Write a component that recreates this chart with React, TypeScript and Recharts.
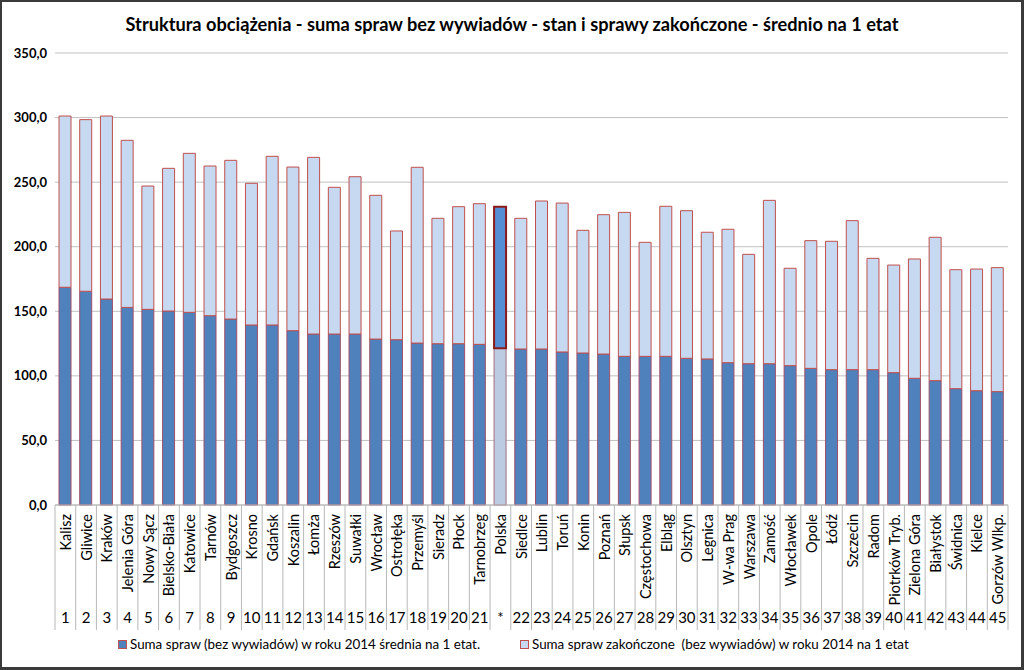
import React from "react";
import { BarChart, Bar, XAxis, YAxis, CartesianGrid, Cell } from "recharts";

// categories (courts), rank labels and values
const names = [
  "Kalisz", "Gliwice", "Kraków", "Jelenia Góra", "Nowy Sącz", "Bielsko-Biała",
  "Katowice", "Tarnów", "Bydgoszcz", "Krosno", "Gdańsk", "Koszalin", "Łomża",
  "Rzeszów", "Suwałki", "Wrocław", "Ostrołęka", "Przemyśl", "Sieradz", "Płock",
  "Tarnobrzeg", "Polska", "Siedlce", "Lublin", "Toruń", "Konin", "Poznań",
  "Słupsk", "Częstochowa", "Elbląg", "Olsztyn", "Legnica", "W-wa Prag",
  "Warszawa", "Zamość", "Włocławek", "Opole", "Łódź", "Szczecin", "Radom",
  "Piotrków Tryb.", "Zielona Góra", "Białystok", "Świdnica", "Kielce", "Gorzów Wlkp.",
];

const ranks = [
  "1", "2", "3", "4", "5", "6", "7", "8", "9", "10", "11", "12", "13", "14",
  "15", "16", "17", "18", "19", "20", "21", "*", "22", "23", "24", "25", "26",
  "27", "28", "29", "30", "31", "32", "33", "34", "35", "36", "37", "38", "39",
  "40", "41", "42", "43", "44", "45",
];

// Suma spraw (bez wywiadów) w roku 2014 średnia na 1 etat
const sumaSpraw = [
  168.6, 165.5, 159.5, 153.0, 151.5, 150.2, 149.2, 146.6, 144.0, 139.4, 139.4,
  135.0, 132.4, 132.4, 132.4, 128.5, 128.0, 125.4, 124.9, 124.9, 124.4, 121.3,
  120.8, 120.8, 118.5, 117.7, 116.9, 115.1, 115.1, 115.1, 113.6, 113.1, 110.2,
  109.4, 109.4, 107.9, 105.8, 104.8, 104.8, 104.8, 102.5, 98.1, 96.3, 90.1,
  88.5, 87.8,
];

// Suma spraw zakończone (bez wywiadów) w roku 2014 na 1 etat (stacked segment)
const zakonczone = [
  132.6, 132.9, 141.7, 129.4, 95.5, 110.5, 123.1, 115.9, 122.9, 109.7, 130.6,
  126.7, 136.8, 113.6, 121.8, 111.3, 84.2, 136.1, 97.1, 106.1, 108.9, 109.7,
  101.2, 114.6, 115.3, 95.0, 107.9, 111.5, 88.3, 116.2, 114.3, 98.1, 103.3,
  84.7, 126.5, 75.4, 98.9, 99.4, 115.4, 86.2, 83.3, 92.4, 111.0, 92.1, 94.2,
  96.0,
];

const yTicks = [0, 50, 100, 150, 200, 250, 300, 350];

const data = names.map((name, i) => ({
  name,
  rank: ranks[i],
  suma: sumaSpraw[i],
  zak: zakonczone[i],
}));

const FONT = "Lato, 'Open Sans', sans-serif";
const W = 1024;
const H = 670;
const PLOT_RIGHT = 1008;
const STEP = (PLOT_RIGHT - 55) / names.length;
const AXIS_H = 125;

const BLUE = "#4f81bd";
const LIGHT = "#c6d9f1";
const OUTLINE = "#c0504d";

const fmt = (v: number) => v.toFixed(1).replace(".", ",");

const CategoryTick = (props: any) => {
  const { x, y, payload } = props;
  const idx = props.index ?? names.indexOf(payload.value);
  const half = STEP / 2;
  const isLast = idx === names.length - 1;
  return (
    <g>
      <line x1={x - half} x2={x - half} y1={y} y2={y + AXIS_H} stroke="#b8b8b8" />
      {isLast && (
        <line x1={x + half} x2={x + half} y1={y} y2={y + AXIS_H} stroke="#b8b8b8" />
      )}
      <text
        x={x}
        y={y + 9}
        transform={`rotate(-90, ${x}, ${y + 9})`}
        textAnchor="end"
        dominantBaseline="central"
        fontFamily={FONT}
        fontSize={14.5}
        fill="#000"
      >
        {payload.value}
      </text>
      <text
        x={x}
        y={y + 118}
        textAnchor="middle"
        fontFamily={FONT}
        fontSize={15}
        fill="#000"
      >
        {ranks[idx]}
      </text>
    </g>
  );
};

const LegendItem = ({ fill, label, left }: { fill: string; label: string; left: number }) => (
  <div
    style={{
      position: "absolute",
      left,
      top: 636,
      display: "flex",
      alignItems: "center",
      whiteSpace: "pre",
      fontSize: 13.4,
      color: "#000",
    }}
  >
    <span
      style={{
        display: "inline-block",
        width: 7,
        height: 7,
        background: fill,
        border: `1px solid ${OUTLINE}`,
        marginRight: 3,
      }}
    />
    <span>{label}</span>
  </div>
);

export default function App() {
  return (
    <div
      style={{
        position: "absolute",
        left: 0,
        top: 0,
        width: W,
        height: H,
        background: "#fff",
        fontFamily: FONT,
      }}
    >
      <BarChart
        width={W}
        height={H}
        data={data}
        margin={{ top: 53, right: W - PLOT_RIGHT, left: 10, bottom: H - 505 - AXIS_H }}
        barSize={12}
        style={{ position: "absolute", left: 0, top: 0 }}
      >
        <CartesianGrid vertical={false} stroke="#c0c0c0" />
        <XAxis
          dataKey="name"
          interval={0}
          height={AXIS_H}
          tickLine={false}
          tickSize={0}
          tickMargin={0}
          axisLine={{ stroke: "#b8b8b8" }}
          tick={<CategoryTick />}
        />
        <YAxis
          width={45}
          domain={[0, 350]}
          ticks={yTicks}
          tickFormatter={fmt}
          axisLine={false}
          tickLine={false}
          tickMargin={2}
          tick={{ fontFamily: FONT, fontSize: 13, fontWeight: 700, fill: "#000" }}
        />
        <Bar dataKey="suma" stackId="a" fill={BLUE} stroke="#a0506a" strokeWidth={1} isAnimationActive={false}>
          {data.map((d) => (
            <Cell
              key={d.name}
              fill={d.name === "Polska" ? "#bccbe2" : BLUE}
              stroke={d.name === "Polska" ? "#a07080" : "#a0506a"}
            />
          ))}
        </Bar>
        <Bar dataKey="zak" stackId="a" fill={LIGHT} stroke={OUTLINE} strokeWidth={1} isAnimationActive={false}>
          {data.map((d) => (
            <Cell
              key={d.name}
              fill={d.name === "Polska" ? "#558ed5" : LIGHT}
              stroke={d.name === "Polska" ? "#8b1a1a" : OUTLINE}
              strokeWidth={d.name === "Polska" ? 2 : 1}
            />
          ))}
        </Bar>
      </BarChart>

      <div
        style={{
          position: "absolute",
          left: 0,
          top: 13,
          width: W,
          textAlign: "center",
          fontSize: 18.2,
          fontWeight: 700,
          color: "#000",
        }}
      >
        Struktura obciążenia - suma spraw bez wywiadów - stan i sprawy zakończone - średnio na 1 etat
      </div>

      <LegendItem left={118} fill={BLUE} label="Suma spraw (bez wywiadów) w roku 2014 średnia na 1 etat." />
      <LegendItem left={520} fill={LIGHT} label="Suma spraw zakończone  (bez wywiadów) w roku 2014 na 1 etat" />

      <div
        style={{
          position: "absolute",
          left: 0,
          top: 0,
          width: W,
          height: H,
          boxSizing: "border-box",
          borderTop: "2px solid #3a3a3a",
          borderLeft: "2px solid #3a3a3a",
          borderRight: "3px solid #3a3a3a",
          borderBottom: "3px solid #3a3a3a",
          pointerEvents: "none",
        }}
      />
    </div>
  );
}
